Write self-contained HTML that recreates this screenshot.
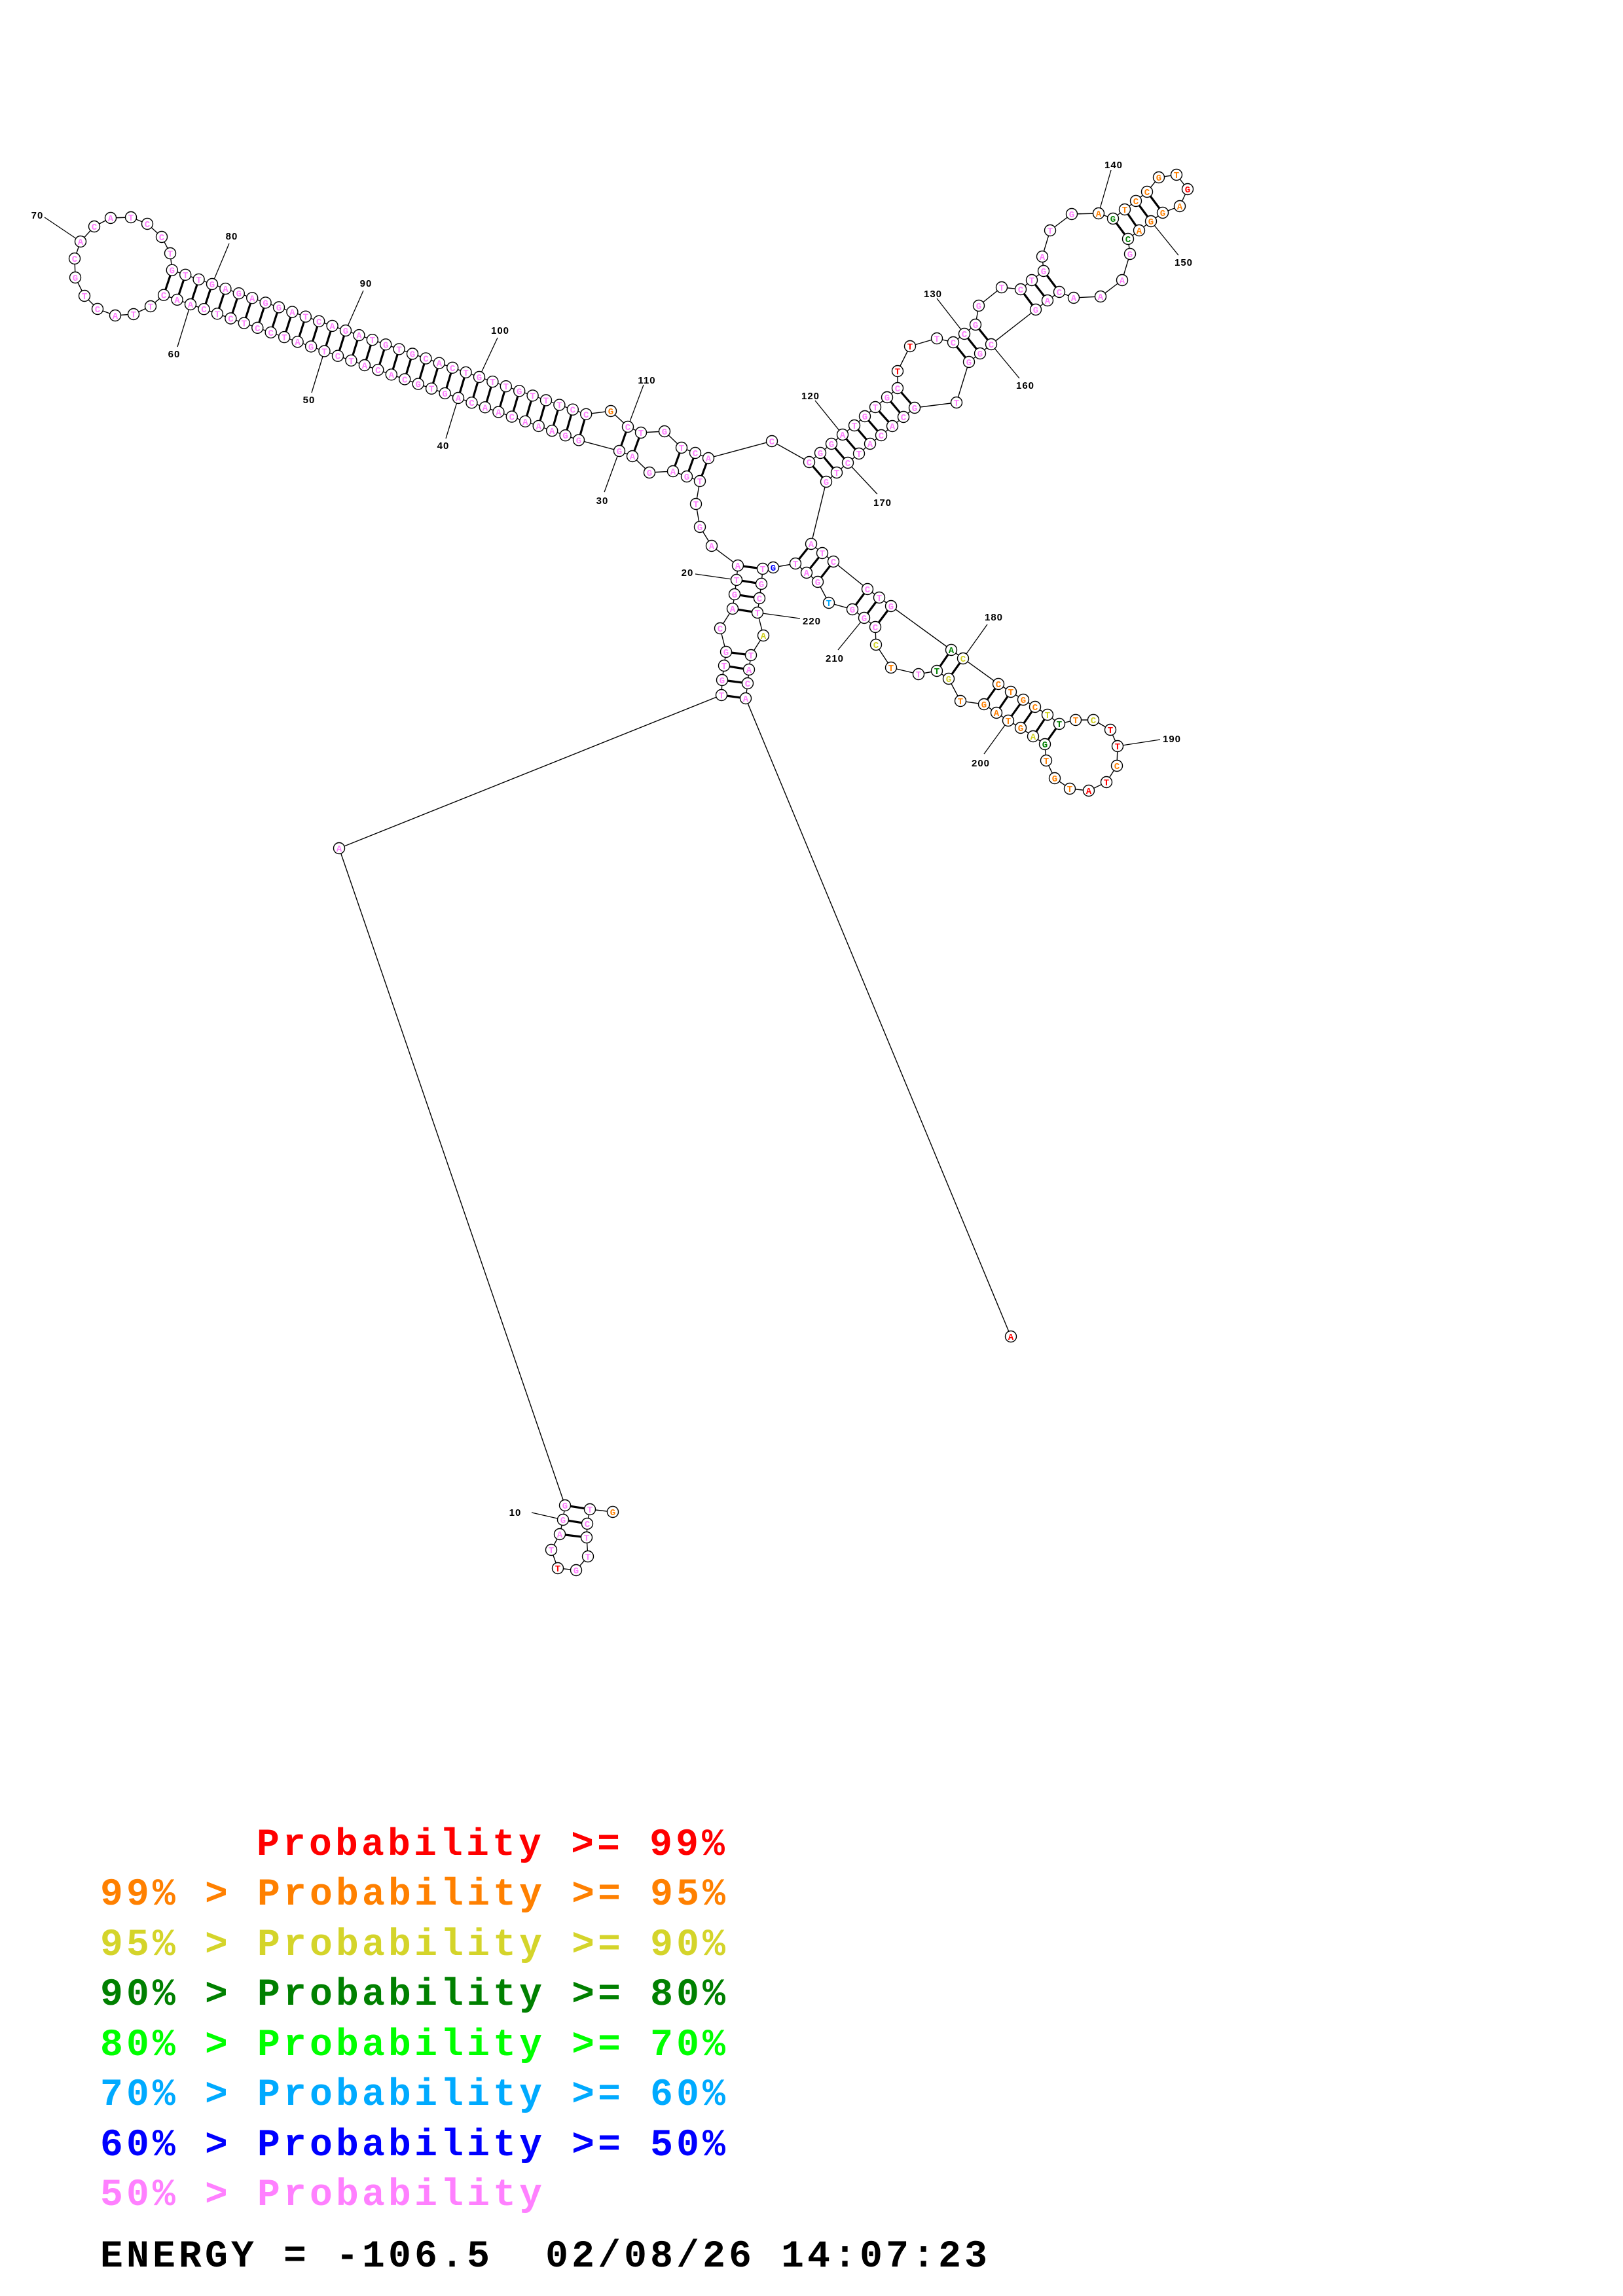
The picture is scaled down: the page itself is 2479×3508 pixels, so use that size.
<!DOCTYPE html>
<html><head><meta charset="utf-8"><style>
html,body{margin:0;padding:0;background:#fff}
svg{display:block}
.bb{fill:none;stroke:#000;stroke-width:1.4}
.pr{stroke:#000;stroke-width:3.2}
.lb{stroke:#000;stroke-width:1.3}
circle{fill:#fff;stroke:#000;stroke-width:1.4}
.n text{font-family:"Liberation Mono",monospace;font-weight:bold;font-size:14px;text-anchor:middle;fill:#ff80ff}
.n text.o{fill:#ff8000}.n text.r{fill:#ff0000}.n text.y{fill:#d0d020}.n text.g{fill:#008000}.n text.c{fill:#00a8ff}.n text.b{fill:#0000ff}
.lt{font-family:"Liberation Sans",sans-serif;font-weight:bold;font-size:15px;text-anchor:middle;fill:#000;letter-spacing:1px}
.lg{font-family:"Liberation Mono",monospace;font-weight:bold;font-size:58px;letter-spacing:5.2px}
</style></head><body>
<svg width="2479" height="3508" viewBox="0 0 2479 3508" xmlns="http://www.w3.org/2000/svg">
<polyline class="bb" points="936,2310 901,2306 897,2328 896,2349 898,2378 880,2399 852,2396 842,2368 855,2344 860,2322 863,2300 518,1296 1102,1062 1103,1039 1106,1017 1109,996 1100,960 1119,930 1122,908 1125,886 1127,864 1087,834 1069,805 1063,770 1069,735 1049,728 1028,720 992,722 966,697 946,689 884,672.4 863.6,665.2 843.2,658.1 822.7,650.9 802.3,643.8 781.8,636.6 761.4,629.5 740.9,622.3 720.5,615.2 700,608 679.6,600.9 659.1,593.7 638.7,586.6 618.2,579.4 597.8,572.3 577.3,565.1 556.9,558 536.4,550.8 516,543.7 495.5,536.5 475.1,529.4 454.6,522.2 434.2,515.1 413.7,507.9 393.3,500.8 372.8,493.6 352.4,486.5 331.9,479.3 311.5,472.2 291,465 270.6,457.9 250.1,450.7 230,468 204,480 176,482 149,472 129,452 115,424 114,395 123,369 144,346 169,333 200,332 225,342 247,362 260,387 262.8,412.7 283.2,419.8 303.6,426.9 324,434 344.4,441.1 364.8,448.2 385.2,455.3 405.6,462.4 426,469.5 446.4,476.6 466.8,483.7 487.2,490.8 507.6,497.9 528,505 548.4,512.1 568.8,519.2 589.2,526.3 609.6,533.4 630,540.5 650.4,547.6 670.8,554.7 691.2,561.8 711.6,568.9 732,576 752.4,583.1 772.8,590.2 793.2,597.3 813.6,604.4 834,611.5 854.4,618.6 874.8,625.7 895.2,632.8 933,628 959,652 979,661 1015,659 1041,684 1062,692 1082,700 1179,674 1236,706 1253,692 1270,678 1287,664 1305,650 1321,636 1337,622 1355,607 1371,593 1371,567 1390,529 1431,517 1456,523 1473,510 1490,496 1495,467 1530,439 1559,442 1576,428 1594,414 1592,392 1604,352 1637,327 1678,326 1700,334 1718,320 1735,307 1752,293 1770,271 1797,267 1814,289 1802,315 1776,325 1758,338 1740,352 1723,365 1726,388 1714,428 1681,453 1640,455 1618,446 1600,459 1582,473 1514,526 1497,540 1480,553 1461,615 1397,623 1380,637 1363,651 1346,665 1329,678 1312,693 1295,707 1278,722 1262,736 1239,831 1256,845 1273,858 1325,900 1343,913 1361,926 1453,993 1471,1006 1525,1045 1544,1057 1563,1069 1581,1080 1600,1092 1618,1106 1643,1100 1670,1100 1696,1115 1707,1140 1706,1170 1690,1195 1663,1208 1634,1205 1611,1189 1598,1162 1596,1137 1578,1125 1559,1112 1540,1101 1522,1089 1503,1076 1467,1071 1449,1037 1431,1025 1403,1030 1361,1020 1338,985 1337,958 1320,944 1302,931 1266,921 1249,889 1232,875 1215,861 1181,867 1165,869 1163,892 1160,914 1157,936 1166,971 1147,1001 1144,1023 1142,1044 1139,1067 1544,2042"/>
<g class="pr">
<line x1="863" y1="2300" x2="901" y2="2306"/><line x1="860" y1="2322" x2="897" y2="2328"/><line x1="855" y1="2344" x2="896" y2="2349"/>
<line x1="1102" y1="1062" x2="1139" y2="1067"/><line x1="1103" y1="1039" x2="1142" y2="1044"/><line x1="1106" y1="1017" x2="1144" y2="1023"/><line x1="1109" y1="996" x2="1147" y2="1001"/>
<line x1="1119" y1="930" x2="1157" y2="936"/><line x1="1122" y1="908" x2="1160" y2="914"/><line x1="1125" y1="886" x2="1163" y2="892"/><line x1="1127" y1="864" x2="1165" y2="869"/>
<line x1="1069" y1="735" x2="1082" y2="700"/><line x1="1049" y1="728" x2="1062" y2="692"/><line x1="1028" y1="720" x2="1041" y2="684"/>
<line x1="946" y1="689" x2="959" y2="652"/><line x1="966" y1="697" x2="979" y2="661"/>
<line x1="884" y1="672.4" x2="895.2" y2="632.8"/><line x1="863.6" y1="665.2" x2="874.8" y2="625.7"/><line x1="843.2" y1="658.1" x2="854.4" y2="618.6"/><line x1="822.7" y1="650.9" x2="834" y2="611.5"/><line x1="802.3" y1="643.8" x2="813.6" y2="604.4"/><line x1="781.8" y1="636.6" x2="793.2" y2="597.3"/><line x1="761.4" y1="629.5" x2="772.8" y2="590.2"/><line x1="740.9" y1="622.3" x2="752.4" y2="583.1"/><line x1="720.5" y1="615.2" x2="732" y2="576"/><line x1="700" y1="608" x2="711.6" y2="568.9"/><line x1="679.6" y1="600.9" x2="691.2" y2="561.8"/><line x1="659.1" y1="593.7" x2="670.8" y2="554.7"/><line x1="638.7" y1="586.6" x2="650.4" y2="547.6"/><line x1="618.2" y1="579.4" x2="630" y2="540.5"/><line x1="597.8" y1="572.3" x2="609.6" y2="533.4"/><line x1="577.3" y1="565.1" x2="589.2" y2="526.3"/><line x1="556.9" y1="558" x2="568.8" y2="519.2"/><line x1="536.4" y1="550.8" x2="548.4" y2="512.1"/><line x1="516" y1="543.7" x2="528" y2="505"/><line x1="495.5" y1="536.5" x2="507.6" y2="497.9"/><line x1="475.1" y1="529.4" x2="487.2" y2="490.8"/><line x1="454.6" y1="522.2" x2="466.8" y2="483.7"/><line x1="434.2" y1="515.1" x2="446.4" y2="476.6"/><line x1="413.7" y1="507.9" x2="426" y2="469.5"/><line x1="393.3" y1="500.8" x2="405.6" y2="462.4"/><line x1="372.8" y1="493.6" x2="385.2" y2="455.3"/><line x1="352.4" y1="486.5" x2="364.8" y2="448.2"/><line x1="331.9" y1="479.3" x2="344.4" y2="441.1"/><line x1="311.5" y1="472.2" x2="324" y2="434"/><line x1="291" y1="465" x2="303.6" y2="426.9"/><line x1="270.6" y1="457.9" x2="283.2" y2="419.8"/><line x1="250.1" y1="450.7" x2="262.8" y2="412.7"/>
<line x1="1236" y1="706" x2="1262" y2="736"/><line x1="1253" y1="692" x2="1278" y2="722"/><line x1="1270" y1="678" x2="1295" y2="707"/><line x1="1287" y1="664" x2="1312" y2="693"/><line x1="1305" y1="650" x2="1329" y2="678"/><line x1="1321" y1="636" x2="1346" y2="665"/><line x1="1337" y1="622" x2="1363" y2="651"/><line x1="1355" y1="607" x2="1380" y2="637"/><line x1="1371" y1="593" x2="1397" y2="623"/>
<line x1="1456" y1="523" x2="1480" y2="553"/><line x1="1473" y1="510" x2="1497" y2="540"/><line x1="1490" y1="496" x2="1514" y2="526"/>
<line x1="1559" y1="442" x2="1582" y2="473"/><line x1="1576" y1="428" x2="1600" y2="459"/><line x1="1594" y1="414" x2="1618" y2="446"/>
<line x1="1700" y1="334" x2="1723" y2="365"/><line x1="1718" y1="320" x2="1740" y2="352"/><line x1="1735" y1="307" x2="1758" y2="338"/><line x1="1752" y1="293" x2="1776" y2="325"/>
<line x1="1239" y1="831" x2="1215" y2="861"/><line x1="1256" y1="845" x2="1232" y2="875"/><line x1="1273" y1="858" x2="1249" y2="889"/>
<line x1="1325" y1="900" x2="1302" y2="931"/><line x1="1343" y1="913" x2="1320" y2="944"/><line x1="1361" y1="926" x2="1337" y2="958"/>
<line x1="1453" y1="993" x2="1431" y2="1025"/><line x1="1471" y1="1006" x2="1449" y2="1037"/>
<line x1="1525" y1="1045" x2="1503" y2="1076"/><line x1="1544" y1="1057" x2="1522" y2="1089"/><line x1="1563" y1="1069" x2="1540" y2="1101"/><line x1="1581" y1="1080" x2="1559" y2="1112"/><line x1="1600" y1="1092" x2="1578" y2="1125"/><line x1="1618" y1="1106" x2="1596" y2="1137"/>
</g>
<g class="lb">
<line x1="812" y1="2311" x2="860" y2="2322"/><line x1="1062" y1="877" x2="1125" y2="886"/><line x1="923" y1="752" x2="946" y2="689"/>
<line x1="681" y1="670" x2="700" y2="608"/><line x1="476" y1="600" x2="495.5" y2="536.5"/><line x1="271" y1="530" x2="291" y2="465"/><line x1="68" y1="332" x2="123" y2="369"/>
<line x1="350" y1="372" x2="324" y2="434"/><line x1="555" y1="444" x2="528" y2="505"/><line x1="760" y1="516" x2="732" y2="576"/>
<line x1="983" y1="588" x2="959" y2="652"/><line x1="1245" y1="612" x2="1287" y2="664"/><line x1="1431" y1="456" x2="1473" y2="510"/><line x1="1697" y1="260" x2="1678" y2="326"/><line x1="1800" y1="390" x2="1758" y2="338"/><line x1="1557" y1="578" x2="1514" y2="526"/><line x1="1340" y1="755" x2="1295" y2="707"/><line x1="1508" y1="954" x2="1471" y2="1006"/><line x1="1772" y1="1130" x2="1707" y2="1140"/><line x1="1503" y1="1152" x2="1540" y2="1101"/><line x1="1280" y1="993" x2="1320" y2="944"/><line x1="1222" y1="945" x2="1157" y2="936"/>
</g>
<g>
<text class="lt" x="787" y="2316">10</text><text class="lt" x="1050" y="880">20</text><text class="lt" x="920" y="770">30</text><text class="lt" x="677" y="686">40</text><text class="lt" x="472" y="616">50</text><text class="lt" x="266" y="546">60</text><text class="lt" x="57" y="334">70</text><text class="lt" x="354" y="366">80</text><text class="lt" x="559" y="438">90</text><text class="lt" x="764" y="510">100</text><text class="lt" x="988" y="586">110</text><text class="lt" x="1238" y="610">120</text><text class="lt" x="1425" y="454">130</text><text class="lt" x="1701" y="257">140</text><text class="lt" x="1808" y="406">150</text><text class="lt" x="1566" y="594">160</text><text class="lt" x="1348" y="773">170</text><text class="lt" x="1518" y="948">180</text><text class="lt" x="1790" y="1134">190</text><text class="lt" x="1498" y="1171">200</text><text class="lt" x="1275" y="1011">210</text><text class="lt" x="1240" y="954">220</text>
</g>
<g class="n">
<circle cx="936" cy="2310" r="8.5"/><text class="o" x="936" y="2315">G</text>
<circle cx="901" cy="2306" r="8.5"/><text x="901" y="2311">T</text>
<circle cx="897" cy="2328" r="8.5"/><text x="897" y="2333">C</text>
<circle cx="896" cy="2349" r="8.5"/><text x="896" y="2354">T</text>
<circle cx="898" cy="2378" r="8.5"/><text x="898" y="2383">T</text>
<circle cx="880" cy="2399" r="8.5"/><text x="880" y="2404">G</text>
<circle cx="852" cy="2396" r="8.5"/><text class="r" x="852" y="2401">T</text>
<circle cx="842" cy="2368" r="8.5"/><text x="842" y="2373">T</text>
<circle cx="855" cy="2344" r="8.5"/><text x="855" y="2349">A</text>
<circle cx="860" cy="2322" r="8.5"/><text x="860" y="2327">G</text>
<circle cx="863" cy="2300" r="8.5"/><text x="863" y="2305">G</text>
<circle cx="518" cy="1296" r="8.5"/><text x="518" y="1301">A</text>
<circle cx="1102" cy="1062" r="8.5"/><text x="1102" y="1067">T</text>
<circle cx="1103" cy="1039" r="8.5"/><text x="1103" y="1044">G</text>
<circle cx="1106" cy="1017" r="8.5"/><text x="1106" y="1022">T</text>
<circle cx="1109" cy="996" r="8.5"/><text x="1109" y="1001">G</text>
<circle cx="1100" cy="960" r="8.5"/><text x="1100" y="965">C</text>
<circle cx="1119" cy="930" r="8.5"/><text x="1119" y="935">A</text>
<circle cx="1122" cy="908" r="8.5"/><text x="1122" y="913">G</text>
<circle cx="1125" cy="886" r="8.5"/><text x="1125" y="891">T</text>
<circle cx="1127" cy="864" r="8.5"/><text x="1127" y="869">A</text>
<circle cx="1087" cy="834" r="8.5"/><text x="1087" y="839">A</text>
<circle cx="1069" cy="805" r="8.5"/><text x="1069" y="810">G</text>
<circle cx="1063" cy="770" r="8.5"/><text x="1063" y="775">T</text>
<circle cx="1069" cy="735" r="8.5"/><text x="1069" y="740">T</text>
<circle cx="1049" cy="728" r="8.5"/><text x="1049" y="733">G</text>
<circle cx="1028" cy="720" r="8.5"/><text x="1028" y="725">A</text>
<circle cx="992" cy="722" r="8.5"/><text x="992" y="727">G</text>
<circle cx="966" cy="697" r="8.5"/><text x="966" y="702">A</text>
<circle cx="946" cy="689" r="8.5"/><text x="946" y="694">G</text>
<circle cx="884" cy="672.4" r="8.5"/><text x="884" y="677.4">G</text>
<circle cx="863.6" cy="665.2" r="8.5"/><text x="863.6" y="670.2">G</text>
<circle cx="843.2" cy="658.1" r="8.5"/><text x="843.2" y="663.1">A</text>
<circle cx="822.7" cy="650.9" r="8.5"/><text x="822.7" y="655.9">A</text>
<circle cx="802.3" cy="643.8" r="8.5"/><text x="802.3" y="648.8">A</text>
<circle cx="781.8" cy="636.6" r="8.5"/><text x="781.8" y="641.6">C</text>
<circle cx="761.4" cy="629.5" r="8.5"/><text x="761.4" y="634.5">A</text>
<circle cx="740.9" cy="622.3" r="8.5"/><text x="740.9" y="627.3">A</text>
<circle cx="720.5" cy="615.2" r="8.5"/><text x="720.5" y="620.2">C</text>
<circle cx="700" cy="608" r="8.5"/><text x="700" y="613">A</text>
<circle cx="679.6" cy="600.9" r="8.5"/><text x="679.6" y="605.9">G</text>
<circle cx="659.1" cy="593.7" r="8.5"/><text x="659.1" y="598.7">T</text>
<circle cx="638.7" cy="586.6" r="8.5"/><text x="638.7" y="591.6">G</text>
<circle cx="618.2" cy="579.4" r="8.5"/><text x="618.2" y="584.4">C</text>
<circle cx="597.8" cy="572.3" r="8.5"/><text x="597.8" y="577.3">A</text>
<circle cx="577.3" cy="565.1" r="8.5"/><text x="577.3" y="570.1">C</text>
<circle cx="556.9" cy="558" r="8.5"/><text x="556.9" y="563">A</text>
<circle cx="536.4" cy="550.8" r="8.5"/><text x="536.4" y="555.8">T</text>
<circle cx="516" cy="543.7" r="8.5"/><text x="516" y="548.7">C</text>
<circle cx="495.5" cy="536.5" r="8.5"/><text x="495.5" y="541.5">T</text>
<circle cx="475.1" cy="529.4" r="8.5"/><text x="475.1" y="534.4">G</text>
<circle cx="454.6" cy="522.2" r="8.5"/><text x="454.6" y="527.2">A</text>
<circle cx="434.2" cy="515.1" r="8.5"/><text x="434.2" y="520.1">T</text>
<circle cx="413.7" cy="507.9" r="8.5"/><text x="413.7" y="512.9">C</text>
<circle cx="393.3" cy="500.8" r="8.5"/><text x="393.3" y="505.8">C</text>
<circle cx="372.8" cy="493.6" r="8.5"/><text x="372.8" y="498.6">T</text>
<circle cx="352.4" cy="486.5" r="8.5"/><text x="352.4" y="491.5">C</text>
<circle cx="331.9" cy="479.3" r="8.5"/><text x="331.9" y="484.3">T</text>
<circle cx="311.5" cy="472.2" r="8.5"/><text x="311.5" y="477.2">C</text>
<circle cx="291" cy="465" r="8.5"/><text x="291" y="470">A</text>
<circle cx="270.6" cy="457.9" r="8.5"/><text x="270.6" y="462.9">A</text>
<circle cx="250.1" cy="450.7" r="8.5"/><text x="250.1" y="455.7">C</text>
<circle cx="230" cy="468" r="8.5"/><text x="230" y="473">T</text>
<circle cx="204" cy="480" r="8.5"/><text x="204" y="485">T</text>
<circle cx="176" cy="482" r="8.5"/><text x="176" y="487">A</text>
<circle cx="149" cy="472" r="8.5"/><text x="149" y="477">C</text>
<circle cx="129" cy="452" r="8.5"/><text x="129" y="457">T</text>
<circle cx="115" cy="424" r="8.5"/><text x="115" y="429">G</text>
<circle cx="114" cy="395" r="8.5"/><text x="114" y="400">C</text>
<circle cx="123" cy="369" r="8.5"/><text x="123" y="374">A</text>
<circle cx="144" cy="346" r="8.5"/><text x="144" y="351">C</text>
<circle cx="169" cy="333" r="8.5"/><text x="169" y="338">A</text>
<circle cx="200" cy="332" r="8.5"/><text x="200" y="337">T</text>
<circle cx="225" cy="342" r="8.5"/><text x="225" y="347">C</text>
<circle cx="247" cy="362" r="8.5"/><text x="247" y="367">C</text>
<circle cx="260" cy="387" r="8.5"/><text x="260" y="392">T</text>
<circle cx="262.8" cy="412.7" r="8.5"/><text x="262.8" y="417.7">G</text>
<circle cx="283.2" cy="419.8" r="8.5"/><text x="283.2" y="424.8">T</text>
<circle cx="303.6" cy="426.9" r="8.5"/><text x="303.6" y="431.9">T</text>
<circle cx="324" cy="434" r="8.5"/><text x="324" y="439">G</text>
<circle cx="344.4" cy="441.1" r="8.5"/><text x="344.4" y="446.1">A</text>
<circle cx="364.8" cy="448.2" r="8.5"/><text x="364.8" y="453.2">G</text>
<circle cx="385.2" cy="455.3" r="8.5"/><text x="385.2" y="460.3">A</text>
<circle cx="405.6" cy="462.4" r="8.5"/><text x="405.6" y="467.4">G</text>
<circle cx="426" cy="469.5" r="8.5"/><text x="426" y="474.5">G</text>
<circle cx="446.4" cy="476.6" r="8.5"/><text x="446.4" y="481.6">A</text>
<circle cx="466.8" cy="483.7" r="8.5"/><text x="466.8" y="488.7">T</text>
<circle cx="487.2" cy="490.8" r="8.5"/><text x="487.2" y="495.8">C</text>
<circle cx="507.6" cy="497.9" r="8.5"/><text x="507.6" y="502.9">A</text>
<circle cx="528" cy="505" r="8.5"/><text x="528" y="510">G</text>
<circle cx="548.4" cy="512.1" r="8.5"/><text x="548.4" y="517.1">A</text>
<circle cx="568.8" cy="519.2" r="8.5"/><text x="568.8" y="524.2">T</text>
<circle cx="589.2" cy="526.3" r="8.5"/><text x="589.2" y="531.3">G</text>
<circle cx="609.6" cy="533.4" r="8.5"/><text x="609.6" y="538.4">T</text>
<circle cx="630" cy="540.5" r="8.5"/><text x="630" y="545.5">G</text>
<circle cx="650.4" cy="547.6" r="8.5"/><text x="650.4" y="552.6">C</text>
<circle cx="670.8" cy="554.7" r="8.5"/><text x="670.8" y="559.7">A</text>
<circle cx="691.2" cy="561.8" r="8.5"/><text x="691.2" y="566.8">C</text>
<circle cx="711.6" cy="568.9" r="8.5"/><text x="711.6" y="573.9">T</text>
<circle cx="732" cy="576" r="8.5"/><text x="732" y="581">G</text>
<circle cx="752.4" cy="583.1" r="8.5"/><text x="752.4" y="588.1">T</text>
<circle cx="772.8" cy="590.2" r="8.5"/><text x="772.8" y="595.2">T</text>
<circle cx="793.2" cy="597.3" r="8.5"/><text x="793.2" y="602.3">G</text>
<circle cx="813.6" cy="604.4" r="8.5"/><text x="813.6" y="609.4">T</text>
<circle cx="834" cy="611.5" r="8.5"/><text x="834" y="616.5">T</text>
<circle cx="854.4" cy="618.6" r="8.5"/><text x="854.4" y="623.6">T</text>
<circle cx="874.8" cy="625.7" r="8.5"/><text x="874.8" y="630.7">C</text>
<circle cx="895.2" cy="632.8" r="8.5"/><text x="895.2" y="637.8">C</text>
<circle cx="933" cy="628" r="8.5"/><text class="o" x="933" y="633">G</text>
<circle cx="959" cy="652" r="8.5"/><text x="959" y="657">C</text>
<circle cx="979" cy="661" r="8.5"/><text x="979" y="666">T</text>
<circle cx="1015" cy="659" r="8.5"/><text x="1015" y="664">G</text>
<circle cx="1041" cy="684" r="8.5"/><text x="1041" y="689">T</text>
<circle cx="1062" cy="692" r="8.5"/><text x="1062" y="697">C</text>
<circle cx="1082" cy="700" r="8.5"/><text x="1082" y="705">A</text>
<circle cx="1179" cy="674" r="8.5"/><text x="1179" y="679">C</text>
<circle cx="1236" cy="706" r="8.5"/><text x="1236" y="711">C</text>
<circle cx="1253" cy="692" r="8.5"/><text x="1253" y="697">G</text>
<circle cx="1270" cy="678" r="8.5"/><text x="1270" y="683">G</text>
<circle cx="1287" cy="664" r="8.5"/><text x="1287" y="669">A</text>
<circle cx="1305" cy="650" r="8.5"/><text x="1305" y="655">T</text>
<circle cx="1321" cy="636" r="8.5"/><text x="1321" y="641">G</text>
<circle cx="1337" cy="622" r="8.5"/><text x="1337" y="627">T</text>
<circle cx="1355" cy="607" r="8.5"/><text x="1355" y="612">G</text>
<circle cx="1371" cy="593" r="8.5"/><text x="1371" y="598">C</text>
<circle cx="1371" cy="567" r="8.5"/><text class="r" x="1371" y="572">T</text>
<circle cx="1390" cy="529" r="8.5"/><text class="r" x="1390" y="534">T</text>
<circle cx="1431" cy="517" r="8.5"/><text x="1431" y="522">T</text>
<circle cx="1456" cy="523" r="8.5"/><text x="1456" y="528">C</text>
<circle cx="1473" cy="510" r="8.5"/><text x="1473" y="515">C</text>
<circle cx="1490" cy="496" r="8.5"/><text x="1490" y="501">G</text>
<circle cx="1495" cy="467" r="8.5"/><text x="1495" y="472">G</text>
<circle cx="1530" cy="439" r="8.5"/><text x="1530" y="444">T</text>
<circle cx="1559" cy="442" r="8.5"/><text x="1559" y="447">C</text>
<circle cx="1576" cy="428" r="8.5"/><text x="1576" y="433">T</text>
<circle cx="1594" cy="414" r="8.5"/><text x="1594" y="419">G</text>
<circle cx="1592" cy="392" r="8.5"/><text x="1592" y="397">A</text>
<circle cx="1604" cy="352" r="8.5"/><text x="1604" y="357">T</text>
<circle cx="1637" cy="327" r="8.5"/><text x="1637" y="332">G</text>
<circle cx="1678" cy="326" r="8.5"/><text class="o" x="1678" y="331">A</text>
<circle cx="1700" cy="334" r="8.5"/><text class="g" x="1700" y="339">G</text>
<circle cx="1718" cy="320" r="8.5"/><text class="o" x="1718" y="325">T</text>
<circle cx="1735" cy="307" r="8.5"/><text class="o" x="1735" y="312">C</text>
<circle cx="1752" cy="293" r="8.5"/><text class="o" x="1752" y="298">C</text>
<circle cx="1770" cy="271" r="8.5"/><text class="o" x="1770" y="276">G</text>
<circle cx="1797" cy="267" r="8.5"/><text class="o" x="1797" y="272">T</text>
<circle cx="1814" cy="289" r="8.5"/><text class="r" x="1814" y="294">G</text>
<circle cx="1802" cy="315" r="8.5"/><text class="o" x="1802" y="320">A</text>
<circle cx="1776" cy="325" r="8.5"/><text class="o" x="1776" y="330">G</text>
<circle cx="1758" cy="338" r="8.5"/><text class="o" x="1758" y="343">G</text>
<circle cx="1740" cy="352" r="8.5"/><text class="o" x="1740" y="357">A</text>
<circle cx="1723" cy="365" r="8.5"/><text class="g" x="1723" y="370">C</text>
<circle cx="1726" cy="388" r="8.5"/><text x="1726" y="393">G</text>
<circle cx="1714" cy="428" r="8.5"/><text x="1714" y="433">A</text>
<circle cx="1681" cy="453" r="8.5"/><text x="1681" y="458">A</text>
<circle cx="1640" cy="455" r="8.5"/><text x="1640" y="460">A</text>
<circle cx="1618" cy="446" r="8.5"/><text x="1618" y="451">C</text>
<circle cx="1600" cy="459" r="8.5"/><text x="1600" y="464">A</text>
<circle cx="1582" cy="473" r="8.5"/><text x="1582" y="478">G</text>
<circle cx="1514" cy="526" r="8.5"/><text x="1514" y="531">C</text>
<circle cx="1497" cy="540" r="8.5"/><text x="1497" y="545">G</text>
<circle cx="1480" cy="553" r="8.5"/><text x="1480" y="558">G</text>
<circle cx="1461" cy="615" r="8.5"/><text x="1461" y="620">T</text>
<circle cx="1397" cy="623" r="8.5"/><text x="1397" y="628">G</text>
<circle cx="1380" cy="637" r="8.5"/><text x="1380" y="642">C</text>
<circle cx="1363" cy="651" r="8.5"/><text x="1363" y="656">A</text>
<circle cx="1346" cy="665" r="8.5"/><text x="1346" y="670">C</text>
<circle cx="1329" cy="678" r="8.5"/><text x="1329" y="683">A</text>
<circle cx="1312" cy="693" r="8.5"/><text x="1312" y="698">T</text>
<circle cx="1295" cy="707" r="8.5"/><text x="1295" y="712">C</text>
<circle cx="1278" cy="722" r="8.5"/><text x="1278" y="727">T</text>
<circle cx="1262" cy="736" r="8.5"/><text x="1262" y="741">G</text>
<circle cx="1239" cy="831" r="8.5"/><text x="1239" y="836">A</text>
<circle cx="1256" cy="845" r="8.5"/><text x="1256" y="850">T</text>
<circle cx="1273" cy="858" r="8.5"/><text x="1273" y="863">C</text>
<circle cx="1325" cy="900" r="8.5"/><text x="1325" y="905">C</text>
<circle cx="1343" cy="913" r="8.5"/><text x="1343" y="918">T</text>
<circle cx="1361" cy="926" r="8.5"/><text x="1361" y="931">G</text>
<circle cx="1453" cy="993" r="8.5"/><text class="g" x="1453" y="998">A</text>
<circle cx="1471" cy="1006" r="8.5"/><text class="y" x="1471" y="1011">C</text>
<circle cx="1525" cy="1045" r="8.5"/><text class="o" x="1525" y="1050">C</text>
<circle cx="1544" cy="1057" r="8.5"/><text class="o" x="1544" y="1062">T</text>
<circle cx="1563" cy="1069" r="8.5"/><text class="o" x="1563" y="1074">G</text>
<circle cx="1581" cy="1080" r="8.5"/><text class="o" x="1581" y="1085">C</text>
<circle cx="1600" cy="1092" r="8.5"/><text class="y" x="1600" y="1097">T</text>
<circle cx="1618" cy="1106" r="8.5"/><text class="g" x="1618" y="1111">T</text>
<circle cx="1643" cy="1100" r="8.5"/><text class="o" x="1643" y="1105">T</text>
<circle cx="1670" cy="1100" r="8.5"/><text class="y" x="1670" y="1105">C</text>
<circle cx="1696" cy="1115" r="8.5"/><text class="r" x="1696" y="1120">T</text>
<circle cx="1707" cy="1140" r="8.5"/><text class="r" x="1707" y="1145">T</text>
<circle cx="1706" cy="1170" r="8.5"/><text class="o" x="1706" y="1175">C</text>
<circle cx="1690" cy="1195" r="8.5"/><text class="r" x="1690" y="1200">T</text>
<circle cx="1663" cy="1208" r="8.5"/><text class="r" x="1663" y="1213">A</text>
<circle cx="1634" cy="1205" r="8.5"/><text class="o" x="1634" y="1210">T</text>
<circle cx="1611" cy="1189" r="8.5"/><text class="o" x="1611" y="1194">G</text>
<circle cx="1598" cy="1162" r="8.5"/><text class="o" x="1598" y="1167">T</text>
<circle cx="1596" cy="1137" r="8.5"/><text class="g" x="1596" y="1142">G</text>
<circle cx="1578" cy="1125" r="8.5"/><text class="y" x="1578" y="1130">A</text>
<circle cx="1559" cy="1112" r="8.5"/><text class="o" x="1559" y="1117">G</text>
<circle cx="1540" cy="1101" r="8.5"/><text class="o" x="1540" y="1106">T</text>
<circle cx="1522" cy="1089" r="8.5"/><text class="o" x="1522" y="1094">A</text>
<circle cx="1503" cy="1076" r="8.5"/><text class="o" x="1503" y="1081">G</text>
<circle cx="1467" cy="1071" r="8.5"/><text class="o" x="1467" y="1076">T</text>
<circle cx="1449" cy="1037" r="8.5"/><text class="y" x="1449" y="1042">G</text>
<circle cx="1431" cy="1025" r="8.5"/><text class="g" x="1431" y="1030">T</text>
<circle cx="1403" cy="1030" r="8.5"/><text x="1403" y="1035">T</text>
<circle cx="1361" cy="1020" r="8.5"/><text class="o" x="1361" y="1025">T</text>
<circle cx="1338" cy="985" r="8.5"/><text class="y" x="1338" y="990">C</text>
<circle cx="1337" cy="958" r="8.5"/><text x="1337" y="963">C</text>
<circle cx="1320" cy="944" r="8.5"/><text x="1320" y="949">G</text>
<circle cx="1302" cy="931" r="8.5"/><text x="1302" y="936">G</text>
<circle cx="1266" cy="921" r="8.5"/><text class="c" x="1266" y="926">T</text>
<circle cx="1249" cy="889" r="8.5"/><text x="1249" y="894">G</text>
<circle cx="1232" cy="875" r="8.5"/><text x="1232" y="880">A</text>
<circle cx="1215" cy="861" r="8.5"/><text x="1215" y="866">T</text>
<circle cx="1181" cy="867" r="8.5"/><text class="b" x="1181" y="872">G</text>
<circle cx="1165" cy="869" r="8.5"/><text x="1165" y="874">T</text>
<circle cx="1163" cy="892" r="8.5"/><text x="1163" y="897">G</text>
<circle cx="1160" cy="914" r="8.5"/><text x="1160" y="919">C</text>
<circle cx="1157" cy="936" r="8.5"/><text x="1157" y="941">T</text>
<circle cx="1166" cy="971" r="8.5"/><text class="y" x="1166" y="976">A</text>
<circle cx="1147" cy="1001" r="8.5"/><text x="1147" y="1006">T</text>
<circle cx="1144" cy="1023" r="8.5"/><text x="1144" y="1028">A</text>
<circle cx="1142" cy="1044" r="8.5"/><text x="1142" y="1049">C</text>
<circle cx="1139" cy="1067" r="8.5"/><text x="1139" y="1072">A</text>
<circle cx="1544" cy="2042" r="8.5"/><text class="r" x="1544" y="2047">A</text>
</g>
<g class="lg">
<text x="392" y="2834" fill="#ff0000">Probability &gt;= 99%</text>
<text x="153" y="2910" fill="#ff8000">99% &gt; Probability &gt;= 95%</text>
<text x="153" y="2987" fill="#d4d42a">95% &gt; Probability &gt;= 90%</text>
<text x="153" y="3063" fill="#008000">90% &gt; Probability &gt;= 80%</text>
<text x="153" y="3140" fill="#00ff00">80% &gt; Probability &gt;= 70%</text>
<text x="153" y="3216" fill="#00aaff">70% &gt; Probability &gt;= 60%</text>
<text x="153" y="3293" fill="#0000ff">60% &gt; Probability &gt;= 50%</text>
<text x="153" y="3369" fill="#ff80ff">50% &gt; Probability</text>
<text x="153" y="3463" fill="#000" xml:space="preserve">ENERGY = -106.5  02/08/26 14:07:23</text>
</g>
</svg>
</body></html>
